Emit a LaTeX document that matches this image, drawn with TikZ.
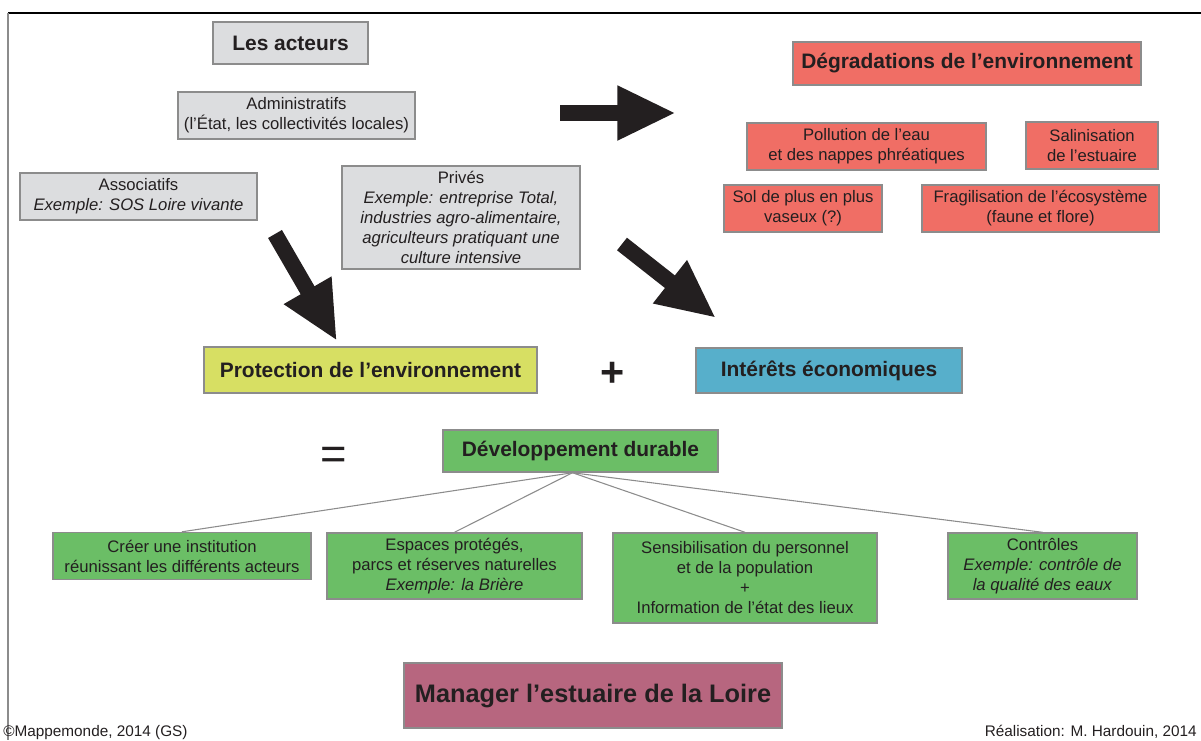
\documentclass[tikz,border=0pt]{standalone}
\usepackage{fontspec}
\setmainfont{Liberation Sans}
\usetikzlibrary{arrows.meta,calc}

\definecolor{ink}{HTML}{231F20}
\definecolor{frame}{HTML}{8C8C8C}
\definecolor{actorgray}{HTML}{DCDDDF}
\definecolor{degred}{HTML}{F06E65}
\definecolor{protyellow}{HTML}{D7DF63}
\definecolor{ecoblue}{HTML}{57AFCB}
\definecolor{devgreen}{HTML}{6BBE66}
\definecolor{mauve}{HTML}{B7667F}

\tikzset{
  box/.style={rectangle, draw=frame, line width=1.1pt, inner sep=0pt,
    align=center, text=ink, font=\fontsize{12.5}{15}\selectfont},
  headbox/.style={box, font=\bfseries\fontsize{15.7}{18}\selectfont},
  actor/.style={box, fill=actorgray},
  degbox/.style={box, fill=degred},
  devbox/.style={box, fill=devgreen},
  bigarrow/.style={line width=12pt, draw=ink,
    -{Triangle[length=44pt, width=38pt]}},
  branch/.style={draw=frame, line width=0.8pt},
  credit/.style={anchor=base, text=ink, font=\fontsize{11.5}{14}\selectfont, inner sep=0pt}
}

\begin{document}
\begin{tikzpicture}[x=0.75pt, y=-0.75pt]
  \useasboundingbox (0,0) rectangle (1201,740);

  % outer frame (top and left rules)
  \draw[line width=1.4pt, black] (1201,13) -- (8,13);
  \draw[line width=1.1pt, frame] (8,13) -- (8,740);

  % actors
  \node[headbox, fill=actorgray, minimum width=155*0.75pt, minimum height=42*0.75pt]
    (acteurs) at (290.5,43) {Les acteurs};
  \node[actor, minimum width=237*0.75pt, minimum height=47*0.75pt]
    (admin) at (296.5,115.5) {Administratifs\\(l’État, les collectivités locales)};
  \node[actor, minimum width=237*0.75pt, minimum height=47*0.75pt]
    (assoc) at (138.5,196.5) {Associatifs\\\textit{Exemple: SOS Loire vivante}};
  \node[actor, minimum width=238*0.75pt, minimum height=103*0.75pt]
    (prives) at (461,217.5) {Privés\\\textit{Exemple: entreprise Total,}\\\textit{industries agro-alimentaire,}\\\textit{agriculteurs pratiquant une}\\\textit{culture intensive}};

  % environmental damage
  \node[headbox, fill=degred, minimum width=348*0.75pt, minimum height=43*0.75pt]
    (degr) at (967,63.5) {Dégradations de l’environnement};
  \node[degbox, minimum width=239*0.75pt, minimum height=47*0.75pt]
    (pollu) at (866.5,146.5) {Pollution de l’eau\\et des nappes phréatiques};
  \node[degbox, minimum width=132*0.75pt, minimum height=47*0.75pt]
    (salin) at (1092,145.5) {Salinisation\\de l’estuaire};
  \node[degbox, minimum width=158*0.75pt, minimum height=47*0.75pt]
    (sol) at (803,208.5) {Sol de plus en plus\\vaseux (?)};
  \node[degbox, minimum width=237*0.75pt, minimum height=47*0.75pt]
    (fragi) at (1040.5,208.5) {Fragilisation de l’écosystème\\(faune et flore)};

  % the two interests
  \node[headbox, fill=protyellow, minimum width=333*0.75pt, minimum height=46*0.75pt]
    (prot) at (370.5,370) {Protection de l’environnement};
  \node[headbox, fill=ecoblue, minimum width=266*0.75pt, minimum height=45*0.75pt]
    (inter) at (829,370.5) {Intérêts économiques};
  \node[text=ink, font=\bfseries\fontsize{31}{31}\selectfont, inner sep=0pt]
    (plus) at (613,374) {+};
  \node[text=ink, font=\fontsize{34}{34}\selectfont, inner sep=0pt]
    (equal) at (334,458.5) {=};

  % sustainable development
  \node[headbox, fill=devgreen, minimum width=275*0.75pt, minimum height=42*0.75pt]
    (dev) at (580.5,451) {Développement durable};
  \node[devbox, minimum width=258*0.75pt, minimum height=47*0.75pt]
    (creer) at (182,556) {Créer une institution\\réunissant les différents acteurs};
  \node[devbox, minimum width=255*0.75pt, minimum height=66*0.75pt]
    (espaces) at (454.5,566) {Espaces protégés,\\parcs et réserves naturelles\\\textit{Exemple: la Brière}};
  \node[devbox, minimum width=264*0.75pt, minimum height=90*0.75pt]
    (sensi) at (745,578) {Sensibilisation du personnel\\et de la population\\+\\Information de l’état des lieux};
  \node[devbox, minimum width=189*0.75pt, minimum height=66*0.75pt]
    (contr) at (1042.5,566) {Contrôles\\\textit{Exemple: contrôle de}\\\textit{la qualité des eaux}};

  % goal
  \node[box, fill=mauve, minimum width=378*0.75pt, minimum height=65*0.75pt,
        font=\bfseries\fontsize{19}{22}\selectfont]
    (manager) at (593,695.5) {Manager l’estuaire de la Loire};

  % branches of sustainable development
  \coordinate (hub) at ([xshift=-6pt]dev.south);
  \foreach \child in {creer, espaces, sensi, contr}
    \draw[branch] (hub) -- (\child.north);

  % block arrows
  \coordinate (a1s) at (560,113);
  \coordinate (a1e) at (676,113);
  \coordinate (a2s) at (275,234);
  \coordinate (a2e) at (337,341);
  \coordinate (a3s) at (622,244);
  \coordinate (a3e) at (716,318);
  \draw[bigarrow] (a1s) -- (a1e);
  \draw[bigarrow] (a2s) -- (a2e);
  \draw[bigarrow] (a3s) -- (a3e);

  % credits
  \node[credit, anchor=base west] (copy) at (3,736) {©Mappemonde, 2014 (GS)};
  \node[credit, anchor=base east] (real) at (1197,736) {Réalisation: M. Hardouin, 2014};
\end{tikzpicture}
\end{document}
